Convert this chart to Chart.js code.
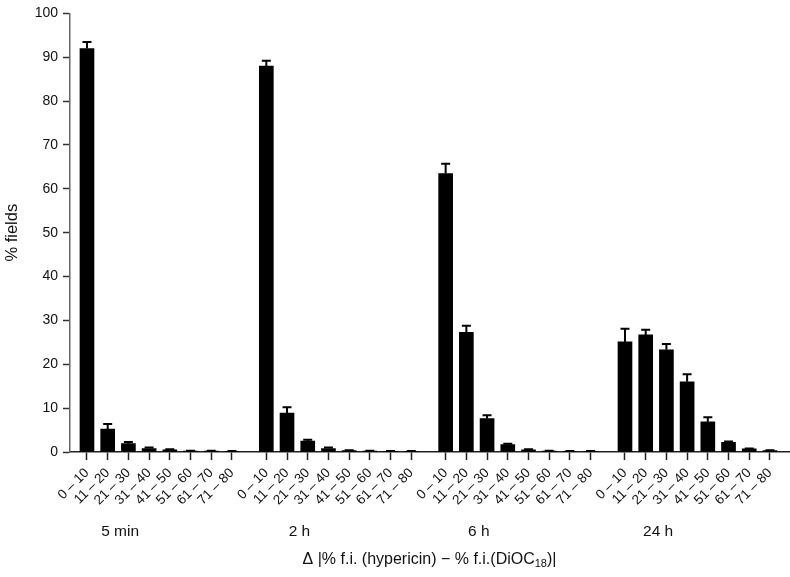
<!DOCTYPE html>
<html lang="en">
<head>
  <meta charset="utf-8" />
  <title>% fields</title>
  <script src="https://cdn.jsdelivr.net/npm/chart.js@4.4.1/dist/chart.umd.min.js"></script>
  <style>
    html, body { margin: 0; padding: 0; background: #fff; }
    #wrap { width: 790px; height: 577px; }
  </style>
</head>
<body>
  <div id="wrap"><canvas id="myChart" width="790" height="577"></canvas></div>
  <script>
    // bins of the difference, one bar each, repeated per time point
    const bins = ['0 – 10', '11 – 20', '21 – 30', '31 – 40', '41 – 50', '51 – 60', '61 – 70', '71 – 80'];
    const groups = ['5 min', '2 h', '6 h', '24 h'];

    const mean_5min = [92.0, 5.2, 1.9, 0.8, 0.5, 0.2, 0.2, 0.1];
    const err_5min = [1.5, 1.2, 0.4, 0.2, 0.1, 0.1, 0.1, 0.1];
    const mean_2h = [88.0, 8.9, 2.5, 0.8, 0.3, 0.2, 0.1, 0.1];
    const err_2h = [1.2, 1.3, 0.3, 0.2, 0.1, 0.1, 0.1, 0.1];
    const mean_6h = [63.5, 27.3, 7.6, 1.7, 0.5, 0.2, 0.1, 0.1];
    const err_6h = [2.2, 1.5, 0.8, 0.2, 0.1, 0.1, 0.1, 0.1];
    const mean_24h = [25.1, 26.7, 23.3, 16.0, 6.9, 2.2, 0.7, 0.3];
    const err_24h = [3.0, 1.2, 1.3, 1.7, 1.0, 0.2, 0.1, 0.1];

    const yTicks = [0, 10, 20, 30, 40, 50, 60, 70, 80, 90, 100];

    const means = [mean_5min, mean_2h, mean_6h, mean_24h];
    const errs = [err_5min, err_2h, err_6h, err_24h];

    // bar slots: 8 per group, groups spaced a bit wider apart
    const period = 8.66;
    const points = [];
    const errFlat = [];
    means.forEach(function (arr, g) {
      arr.forEach(function (v, i) {
        points.push({ x: g * period + i, y: v });
        errFlat.push(errs[g][i]);
      });
    });
    const tickPos = points.map(p => p.x);

    const FONT = "'Liberation Sans', Arial, Helvetica, sans-serif";

    const errorBars = {
      id: 'errorBars',
      afterDatasetsDraw(chart) {
        const ctx = chart.ctx;
        const y = chart.scales.y;
        const meta = chart.getDatasetMeta(0);
        ctx.save();
        ctx.strokeStyle = '#000';
        ctx.lineWidth = 2;
        meta.data.forEach(function (bar, k) {
          const top = y.getPixelForValue(points[k].y + errFlat[k]);
          ctx.beginPath();
          ctx.moveTo(bar.x, bar.y);
          ctx.lineTo(bar.x, top);
          ctx.moveTo(bar.x - 4.5, top);
          ctx.lineTo(bar.x + 4.5, top);
          ctx.stroke();
        });
        ctx.restore();
      }
    };

    const extraText = {
      id: 'extraText',
      afterDraw(chart) {
        const ctx = chart.ctx;
        const x = chart.scales.x;
        const area = chart.chartArea;
        ctx.save();
        ctx.fillStyle = '#111';
        ctx.textBaseline = 'middle';
        ctx.textAlign = 'center';
        ctx.font = '15.5px ' + FONT;
        groups.forEach(function (name, g) {
          ctx.fillText(name, x.getPixelForValue(g * period + 1.6), 532);
        });

        // axis title with subscript
        const parts = ['\u0394 |% f.i. (hypericin) \u2212 % f.i.(DiOC', '18', ')|'];
        ctx.font = '16px ' + FONT;
        const w0 = ctx.measureText(parts[0]).width;
        const w2 = ctx.measureText(parts[2]).width;
        ctx.font = '11px ' + FONT;
        const w1 = ctx.measureText(parts[1]).width;
        let cx = (area.left + area.right) / 2 - (w0 + w1 + w2) / 2;
        const ty = 560;
        ctx.textAlign = 'left';
        ctx.font = '16px ' + FONT;
        ctx.fillText(parts[0], cx, ty);
        cx += w0;
        ctx.font = '11px ' + FONT;
        ctx.fillText(parts[1], cx, ty + 4);
        cx += w1;
        ctx.font = '16px ' + FONT;
        ctx.fillText(parts[2], cx, ty);
        ctx.restore();
      }
    };

    const ctx = document.getElementById('myChart').getContext('2d');
    const myChart = new Chart(ctx, {
      type: 'bar',
      data: {
        datasets: [{
          label: '% fields',
          data: points,
          backgroundColor: '#000',
          borderWidth: 0,
          barThickness: 14
        }]
      },
      options: {
        responsive: false,
        animation: false,
        layout: { padding: { left: 0, right: 1, top: 8, bottom: 0 } },
        plugins: {
          legend: { display: false },
          tooltip: { enabled: false }
        },
        scales: {
          x: {
            type: 'linear',
            offset: false,
            min: -0.82,
            max: 33.9,
            afterBuildTicks: function (scale) {
              scale.ticks = tickPos.map(v => ({ value: v }));
            },
            afterFit: function (scale) { scale.height = 125; },
            grid: {
              offset: false,
              drawOnChartArea: false,
              drawTicks: true,
              tickLength: 8,
              tickWidth: 1.5,
              tickColor: '#222'
            },
            border: { display: true, color: '#222', width: 1.5 },
            ticks: {
              autoSkip: false,
              minRotation: 45,
              maxRotation: 45,
              padding: 5,
              color: '#111',
              font: { family: FONT, size: 13.5 },
              callback: function (value, index) { return bins[index % bins.length]; }
            }
          },
          y: {
            min: 0,
            max: 100,
            afterBuildTicks: function (scale) {
              scale.ticks = yTicks.map(v => ({ value: v }));
            },
            afterFit: function (scale) { scale.width = 70; },
            grid: {
              drawOnChartArea: false,
              drawTicks: true,
              tickLength: 7,
              tickWidth: 1.5,
              tickColor: '#333'
            },
            border: { display: true, color: '#666', width: 1.5 },
            title: {
              display: true,
              text: '% fields',
              color: '#111',
              padding: { top: 3, bottom: 8 },
              font: { family: FONT, size: 16.5 }
            },
            ticks: {
              padding: 5,
              color: '#111',
              font: { family: FONT, size: 14 }
            }
          }
        }
      },
      plugins: [errorBars, extraText]
    });
  </script>
</body>
</html>
